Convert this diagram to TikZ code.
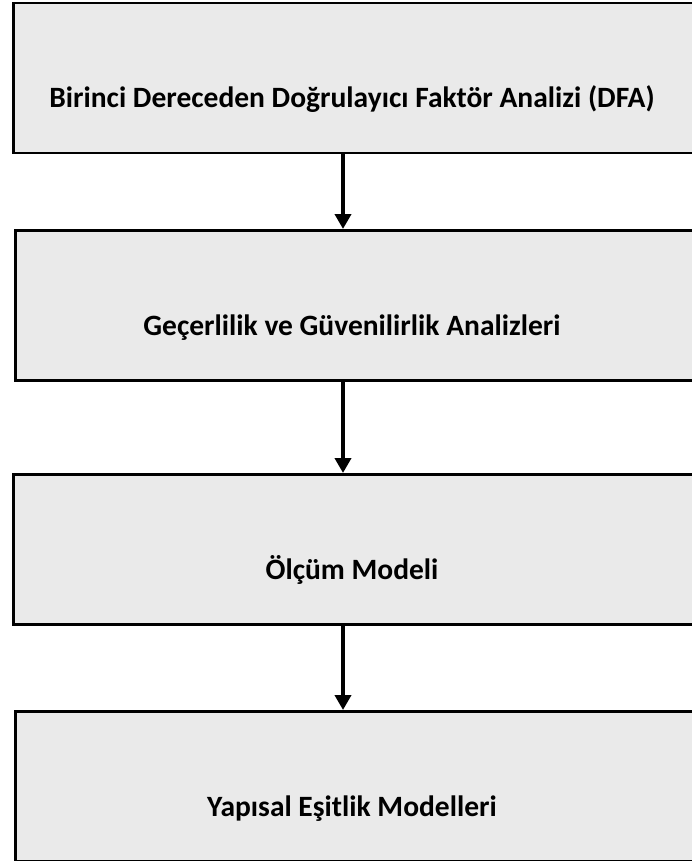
\documentclass[tikz,border=0pt]{standalone}
\usepackage{fontspec}
\setmainfont{Carlito}
\usetikzlibrary{arrows.meta}
\definecolor{boxfill}{HTML}{EAEAEA}
\tikzset{
  stepbox/.style={draw=black, line width=2.5pt, fill=boxfill, rectangle,
    inner sep=0pt, anchor=north west, minimum height=150pt},
  steptext/.style={font=\bfseries\fontsize{29.5}{34}\selectfont, anchor=base, inner sep=0pt},
  flow/.style={line width=4pt, -{Triangle[width=16pt,length=15pt]}}
}
\begin{document}
\begin{tikzpicture}[x=1pt, y=-1pt]
  \useasboundingbox (0,0) rectangle (691,861);
  % four stacked process boxes, running off the right edge
  \node[stepbox, minimum width=690pt] (b1) at (12,2) {};
  \node[stepbox, minimum width=688pt] (b2) at (14,229) {};
  \node[stepbox, minimum width=690pt] (b3) at (12,473) {};
  \node[stepbox, minimum width=688pt] (b4) at (14,710) {};
  % labels sit in the lower part of each box
  \node[steptext] (t1) at (352,108) {Birinci Dereceden Doğrulayıcı Faktör Analizi (DFA)};
  \node[steptext] (t2) at (352,335) {Geçerlilik ve Güvenilirlik Analizleri};
  \node[steptext] (t3) at (352,579) {Ölçüm Modeli};
  \node[steptext] (t4) at (352,816) {Yapısal Eşitlik Modelleri};
  % connectors between the boxes
  \coordinate (ax) at (343,0);
  \draw[flow] (b1.south -| ax) -- (b2.north -| ax);
  \draw[flow] (b2.south -| ax) -- (b3.north -| ax);
  \draw[flow] (b3.south -| ax) -- (b4.north -| ax);
\end{tikzpicture}
\end{document}
